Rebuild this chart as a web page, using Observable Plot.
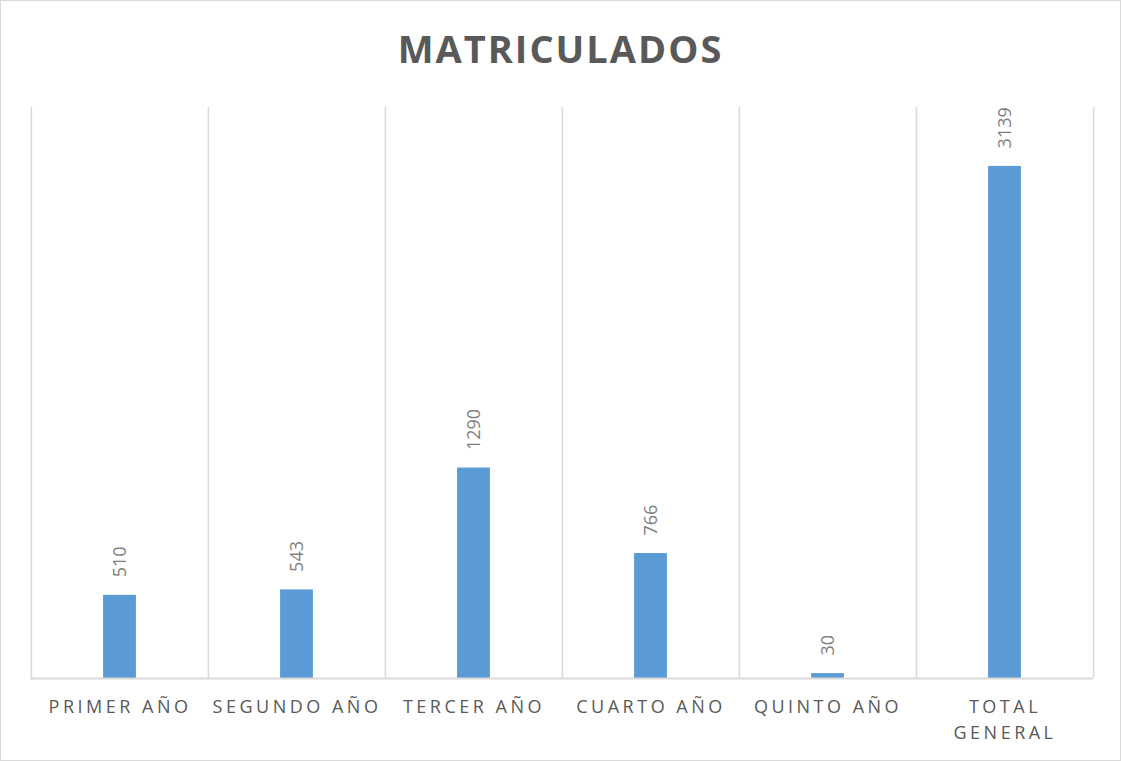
<!DOCTYPE html>
<html>
<head>
<meta charset="utf-8">
<script src="https://cdn.jsdelivr.net/npm/d3@7"></script>
<script src="https://cdn.jsdelivr.net/npm/@observablehq/plot@0.6"></script>
<style>
  html, body { margin: 0; padding: 0; background: #fff; }
  #wrap { width: 1121px; height: 761px; box-sizing: border-box; border: 1px solid #d9d9d9; background: #fff; }
  #title { height: 100px; box-sizing: border-box; padding-top: 28px; text-align: center;
           font-family: "Open Sans", sans-serif; font-weight: bold; font-size: 38px; line-height: 38px;
           letter-spacing: 2px; color: #595959; }
  #chart svg g[aria-label="x-axis tick label"] { letter-spacing: 3.5px; }
</style>
</head>
<body>
<div id="wrap">
  <div id="title">MATRICULADOS</div>
  <div id="chart"></div>
</div>
<script>
const categories = ["PRIMER AÑO", "SEGUNDO AÑO", "TERCER AÑO", "CUARTO AÑO", "QUINTO AÑO", "TOTAL GENERAL"];
const values = [510, 543, 1290, 766, 30, 3139];
const tickLabels = ["PRIMER AÑO", "SEGUNDO AÑO", "TERCER AÑO", "CUARTO AÑO", "QUINTO AÑO", "TOTAL\nGENERAL"];

const data = categories.map((c, i) => ({category: c, value: values[i]}));

const width = 1119, height = 659;
const marginLeft = 29, marginRight = 27, marginTop = 6, marginBottom = 82;
const bw = (width - marginLeft - marginRight) / categories.length;
const barW = 33;
const inset = (bw - barW) / 2;

const chart = Plot.plot({
  width, height, marginLeft, marginRight, marginTop, marginBottom,
  style: {fontFamily: "Open Sans, sans-serif", fontSize: "18px", color: "#595959", background: "#fff"},
  x: {domain: categories, padding: 0, label: null},
  y: {domain: [0, 3500], axis: null},
  marks: [
    Plot.ruleX(categories, {x: d => d, dx: -bw / 2, stroke: "#d9d9d9", strokeWidth: 1.5}),
    Plot.ruleX([categories[categories.length - 1]], {x: d => d, dx: bw / 2, stroke: "#d9d9d9", strokeWidth: 1.5}),
    Plot.barY(data, {x: "category", y: "value", fill: "#5b9bd5", insetLeft: inset, insetRight: inset}),
    Plot.ruleY([0], {stroke: "#d9d9d9", strokeWidth: 2}),
    Plot.text(data, {x: "category", y: "value", text: d => String(d.value), rotate: -90,
      textAnchor: "start", dy: -18, fill: "#7f7f7f", fontSize: 18}),
    Plot.axisX({tickSize: 0, tickPadding: 17, fontSize: 18, lineHeight: 1.4,
      tickFormat: (d) => tickLabels[categories.indexOf(d)], fill: "#595959"})
  ]
});
document.getElementById("chart").appendChild(chart);
</script>
</body>
</html>
